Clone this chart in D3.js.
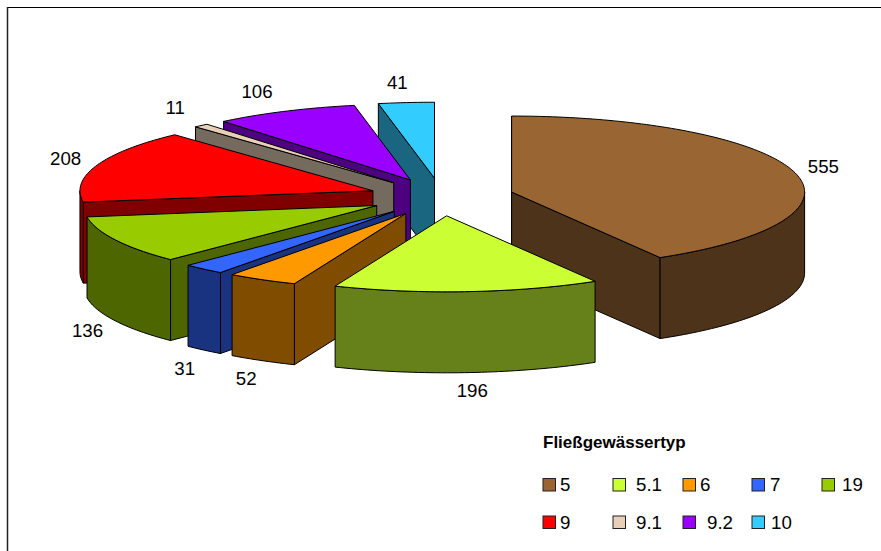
<!DOCTYPE html>
<html>
<head>
<meta charset="utf-8">
<script src="https://cdn.jsdelivr.net/npm/d3@7"></script>
<style>
  html, body { margin: 0; padding: 0; background: #fff; }
  svg { display: block; }
  text { font-family: "Liberation Sans", Arial, sans-serif; fill: #000; }
</style>
</head>
<body>
<svg id="chart" width="881" height="551"></svg>
<script>
// The values, clockwise from 12 o'clock
var categories = ["5", "5.1", "6", "7", "19", "9", "9.1", "9.2", "10"];
var values = [555, 196, 52, 31, 136, 208, 11, 106, 41];

// Top and side colour of every slice
var topColours = ["#996633", "#ccff33", "#ff9900", "#3366ff", "#99cc00", "#ff0000", "#e8d0b8", "#9900ff", "#33ccff"];
var sideColours = ["#4d331a", "#66801a", "#804d00", "#1a3380", "#4d6600", "#800000", "#756a5e", "#4d0080", "#1a6680"];

// Size of the area, centre of the pie and its projection
var width = 881, height = 551;
var centreX = 441.5, centreY = 197;
var radiusX = 293, radiusY = 76;
var depth = 81;
var explode = 0.248;

var svg = d3.select("svg#chart");

// Frame, only the top and left lines are in view
svg.append("line").attr("x1", 7).attr("y1", 7.5).attr("x2", width).attr("y2", 7.5)
  .attr("stroke", "#000").attr("stroke-width", 1);
svg.append("line").attr("x1", 7.5).attr("y1", 7).attr("x2", 7.5).attr("y2", height)
  .attr("stroke", "#222").attr("stroke-width", 1.5);

// Flat ellipse: unit circle to screen offsets
var xScale = d3.scaleLinear().domain([-1, 1]).range([-radiusX, radiusX]);
var yScale = d3.scaleLinear().domain([-1, 1]).range([radiusY, -radiusY]);

var pie = d3.pie().sort(null).value(d => d.value);
var slices = pie(values.map((v, i) => ({ value: v, i: i })));

var line = d3.line();

// Point on the rim of a slice at angle a, r is in radii from the slice apex
function point(s, a, r, drop) {
  var mid = (s.startAngle + s.endAngle) / 2;
  return [
    centreX + xScale(explode * Math.sin(mid)) + xScale(r * Math.sin(a)),
    centreY + yScale(explode * Math.cos(mid)) + yScale(r * Math.cos(a)) + drop
  ];
}

function arcPoints(s, a0, a1, drop) {
  var steps = Math.max(2, Math.ceil((a1 - a0) / 0.02));
  return d3.range(steps + 1).map(j => point(s, a0 + (a1 - a0) * j / steps, 1, drop));
}

// Flat wall along one cut edge of the slice
function edgeFace(s, a) {
  return line([point(s, a, 0, 0), point(s, a, 1, 0), point(s, a, 1, depth), point(s, a, 0, depth)]) + "Z";
}

var eps = 1e-6;

function drawSlice(s) {
  var g = svg.append("g").attr("class", "slice");
  var side = sideColours[s.data.i];
  var shape = p => g.append("path").attr("d", p)
    .attr("fill", side).attr("stroke", "#000").attr("stroke-width", 1).attr("stroke-linejoin", "round");

  // Only the walls that face the viewer
  if (Math.sin(s.startAngle) <= eps) shape(edgeFace(s, s.startAngle));
  if (Math.sin(s.endAngle) >= -eps) shape(edgeFace(s, s.endAngle));

  var a0 = Math.max(s.startAngle, Math.PI / 2);
  var a1 = Math.min(s.endAngle, Math.PI * 3 / 2);
  if (a1 > a0) {
    shape(line(arcPoints(s, a0, a1, 0).concat(arcPoints(s, a0, a1, depth).reverse())) + "Z");
  }

  var top = [point(s, 0, 0, 0)].concat(arcPoints(s, s.startAngle, s.endAngle, 0));
  shape(line(top) + "Z").attr("fill", topColours[s.data.i]);
}

// Painted back to front
var paintOrder = [8, 7, 6, 5, 4, 3, 2, 0, 1];
paintOrder.forEach(i => drawSlice(slices[i]));

// Label nudges from the rim midpoint of each slice
var labelNudge = [[29, -6], [5, 99], [-16, 99], [-19, 99], [-28, 91], [-31, -7], [-26, -18], [-28, -20], [-9, -20]];

svg.selectAll("text.valueLabel")
  .data(slices)
  .enter().append("text")
  .attr("class", "valueLabel")
  .attr("x", d => centreX + (1 + explode) * xScale(Math.sin((d.startAngle + d.endAngle) / 2)) + labelNudge[d.data.i][0])
  .attr("y", d => centreY + (1 + explode) * yScale(Math.cos((d.startAngle + d.endAngle) / 2)) + labelNudge[d.data.i][1])
  .attr("dominant-baseline", "central")
  .attr("text-anchor", "middle")
  .attr("font-size", 18.7)
  .text(d => d.value);

// Legend
svg.append("text")
  .attr("x", 543).attr("y", 448)
  .attr("font-size", 17).attr("font-weight", "bold")
  .text("Fließgewässertyp");

var legendCols = [543, 613, 683, 752, 822];
var legendRows = [478.5, 516];
var legendGap = [17, 23, 17, 18, 20, 17, 23, 24, 19];

var legend = svg.selectAll("g.legendItem")
  .data(categories)
  .enter().append("g")
  .attr("class", "legendItem")
  .attr("transform", (d, i) => "translate(" + legendCols[i % 5] + "," + legendRows[Math.floor(i / 5)] + ")");

legend.append("rect")
  .attr("width", 12.5).attr("height", 12.5)
  .attr("fill", (d, i) => topColours[i])
  .attr("stroke", "#222").attr("stroke-width", 1);

legend.append("text")
  .attr("x", (d, i) => legendGap[i])
  .attr("y", 6)
  .attr("dominant-baseline", "central")
  .attr("font-size", 18.7)
  .text(d => d);
</script>
</body>
</html>
